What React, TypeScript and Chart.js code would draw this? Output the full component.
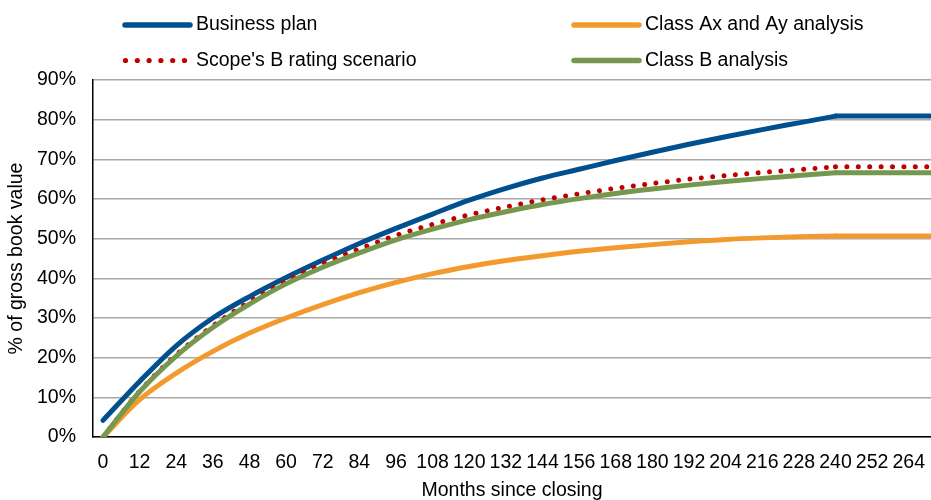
import { useEffect, useRef } from 'react';
import { Chart, registerables } from 'chart.js';

Chart.register(...registerables);

// Months since closing (data points every 12 months)
const months = [0, 12, 24, 36, 48, 60, 72, 84, 96, 108, 120, 132, 144, 156, 168, 180, 192, 204, 216, 228, 240, 252, 264, 276];
const tickMonths = [0, 12, 24, 36, 48, 60, 72, 84, 96, 108, 120, 132, 144, 156, 168, 180, 192, 204, 216, 228, 240, 252, 264];
const yTicks = [0, 10, 20, 30, 40, 50, 60, 70, 80, 90];
// Recoveries stop growing from month 240 onwards
const plateauMonth = 240;

// Cumulative recoveries, % of gross book value
const businessPlan = [4.2, 14.0, 23.0, 30.0, 35.4, 40.2, 44.6, 48.8, 52.6, 56.2, 59.7, 62.7, 65.3, 67.5, 69.7, 71.8, 73.8, 75.7, 77.5, 79.2, 80.9, 80.9, 80.9, 80.9];
const scopeBScenario = [0, 11.5, 20.7, 28.0, 34.1, 39.3, 43.7, 47.4, 50.8, 53.6, 56.0, 58.0, 59.8, 61.3, 62.7, 63.9, 65.0, 65.9, 66.7, 67.4, 68.1, 68.1, 68.1, 68.1];
const classAxAy = [0, 9.4, 16.1, 21.6, 26.2, 30.0, 33.4, 36.4, 39.0, 41.2, 43.0, 44.5, 45.7, 46.8, 47.7, 48.5, 49.2, 49.8, 50.2, 50.5, 50.7, 50.7, 50.7, 50.7];
const classB = [0, 11.4, 20.4, 27.6, 33.5, 38.6, 42.8, 46.4, 49.7, 52.4, 54.8, 56.8, 58.6, 60.1, 61.4, 62.5, 63.5, 64.4, 65.2, 65.9, 66.6, 66.6, 66.6, 66.6];

const BLUE = '#00508F';
const RED = '#C00000';
const ORANGE = '#F39A2E';
const GREEN = '#76984E';
const FONT_FAMILY = '"Liberation Sans", Arial, sans-serif';
const FONT_SIZE = 19.5;

const toPoints = (values: number[]) => months.map((m, i) => ({ x: m, y: values[i] }));

// Each series: a smooth growth phase plus a straight plateau after month 240
function seriesDatasets(label: string, values: number[], style: Record<string, any>, order: number) {
  const pts = toPoints(values);
  const cut = months.indexOf(plateauMonth);
  return [
    { label, data: pts.slice(0, cut + 1), ...style, order },
    { label, data: pts.slice(cut), ...style, order, cubicInterpolationMode: 'default', tension: 0 },
  ];
}

// Two-column legend drawn on the canvas above the plot
const legendLayout = [
  { index: 0, x: 123, y: 25 },
  { index: 2, x: 123, y: 60.5 },
  { index: 4, x: 572, y: 25 },
  { index: 6, x: 572, y: 60.5 },
];

const legendPlugin = {
  id: 'twoColumnLegend',
  afterDraw(chart: any) {
    const ctx = chart.ctx as CanvasRenderingContext2D;
    ctx.save();
    ctx.font = `${FONT_SIZE}px ${FONT_FAMILY}`;
    ctx.textBaseline = 'middle';
    ctx.textAlign = 'left';
    for (const item of legendLayout) {
      const ds = chart.data.datasets[item.index];
      const len = 67;
      ctx.strokeStyle = ds.borderColor;
      ctx.fillStyle = ds.borderColor;
      if (ds.borderDash && ds.borderDash.length) {
        for (let k = 0; k < 6; k++) {
          ctx.beginPath();
          ctx.arc(item.x + 2.5 + k * 11.8, item.y, 2.6, 0, Math.PI * 2);
          ctx.fill();
        }
      } else {
        ctx.lineWidth = 5.5;
        ctx.lineCap = 'round';
        ctx.beginPath();
        ctx.moveTo(item.x + 2, item.y);
        ctx.lineTo(item.x + len, item.y);
        ctx.stroke();
      }
      ctx.fillStyle = '#000';
      ctx.fillText(ds.label, item.x + 73, item.y);
    }
    ctx.restore();
  },
};

export default function App() {
  const canvasRef = useRef<HTMLCanvasElement | null>(null);

  useEffect(() => {
    if (!canvasRef.current) return;
    const font = { family: FONT_FAMILY, size: FONT_SIZE };
    const solid = { borderWidth: 5, borderCapStyle: 'round' };
    const chart = new Chart(canvasRef.current, {
      type: 'line',
      data: {
        datasets: [
          ...seriesDatasets('Business plan', businessPlan, { borderColor: BLUE, backgroundColor: BLUE, ...solid }, 3),
          ...seriesDatasets(
            "Scope's B rating scenario",
            scopeBScenario,
            { borderColor: RED, backgroundColor: RED, borderWidth: 5, borderDash: [0.01, 11.4], borderCapStyle: 'round' },
            2,
          ),
          ...seriesDatasets('Class Ax and Ay analysis', classAxAy, { borderColor: ORANGE, backgroundColor: ORANGE, ...solid }, 1),
          ...seriesDatasets('Class B analysis', classB, { borderColor: GREEN, backgroundColor: GREEN, ...solid }, 0),
        ] as any,
      },
      options: {
        animation: false,
        responsive: false,
        devicePixelRatio: 1,
        layout: { padding: { top: 80, left: 0, right: 0, bottom: 0 } },
        elements: {
          point: { radius: 0, hoverRadius: 0 },
          line: { cubicInterpolationMode: 'monotone', borderJoinStyle: 'round' },
        },
        plugins: {
          legend: { display: false },
          tooltip: { enabled: false },
        },
        scales: {
          x: {
            type: 'linear',
            min: -3.27,
            max: 271.3,
            afterBuildTicks: (scale: any) => {
              scale.ticks = tickMonths.map((v) => ({ value: v }));
            },
            afterFit: (scale: any) => {
              scale.height = 63;
              scale.paddingLeft = 0;
              scale.paddingRight = 0;
            },
            grid: { display: false, drawTicks: false },
            border: { display: true, color: '#000', width: 1.5 },
            ticks: {
              color: '#000',
              font,
              padding: 14,
              maxRotation: 0,
              autoSkip: false,
              callback: (v: any) => String(v),
            },
            title: {
              display: true,
              text: 'Months since closing',
              color: '#000',
              font,
              padding: { top: 0, bottom: -2 },
            },
          },
          y: {
            type: 'linear',
            min: 0,
            max: 90,
            afterBuildTicks: (scale: any) => {
              scale.ticks = yTicks.map((v) => ({ value: v }));
            },
            afterFit: (scale: any) => {
              scale.width = 93;
            },
            grid: { color: '#A8A8A8', lineWidth: 1.5, drawTicks: false },
            border: { display: true, color: '#000', width: 1.5 },
            ticks: {
              color: '#000',
              font,
              padding: 17,
              callback: (v: any) => `${v}%`,
            },
            title: {
              display: true,
              text: '% of gross book value',
              color: '#000',
              font,
              padding: { top: 5, bottom: 0 },
            },
          },
        },
      } as any,
      plugins: [legendPlugin],
    });
    return () => chart.destroy();
  }, []);

  return (
    <div style={{ position: 'absolute', left: 0, top: 0, width: 931, height: 500, background: '#fff' }}>
      <canvas ref={canvasRef} width={931} height={500} style={{ display: 'block' }} />
    </div>
  );
}
